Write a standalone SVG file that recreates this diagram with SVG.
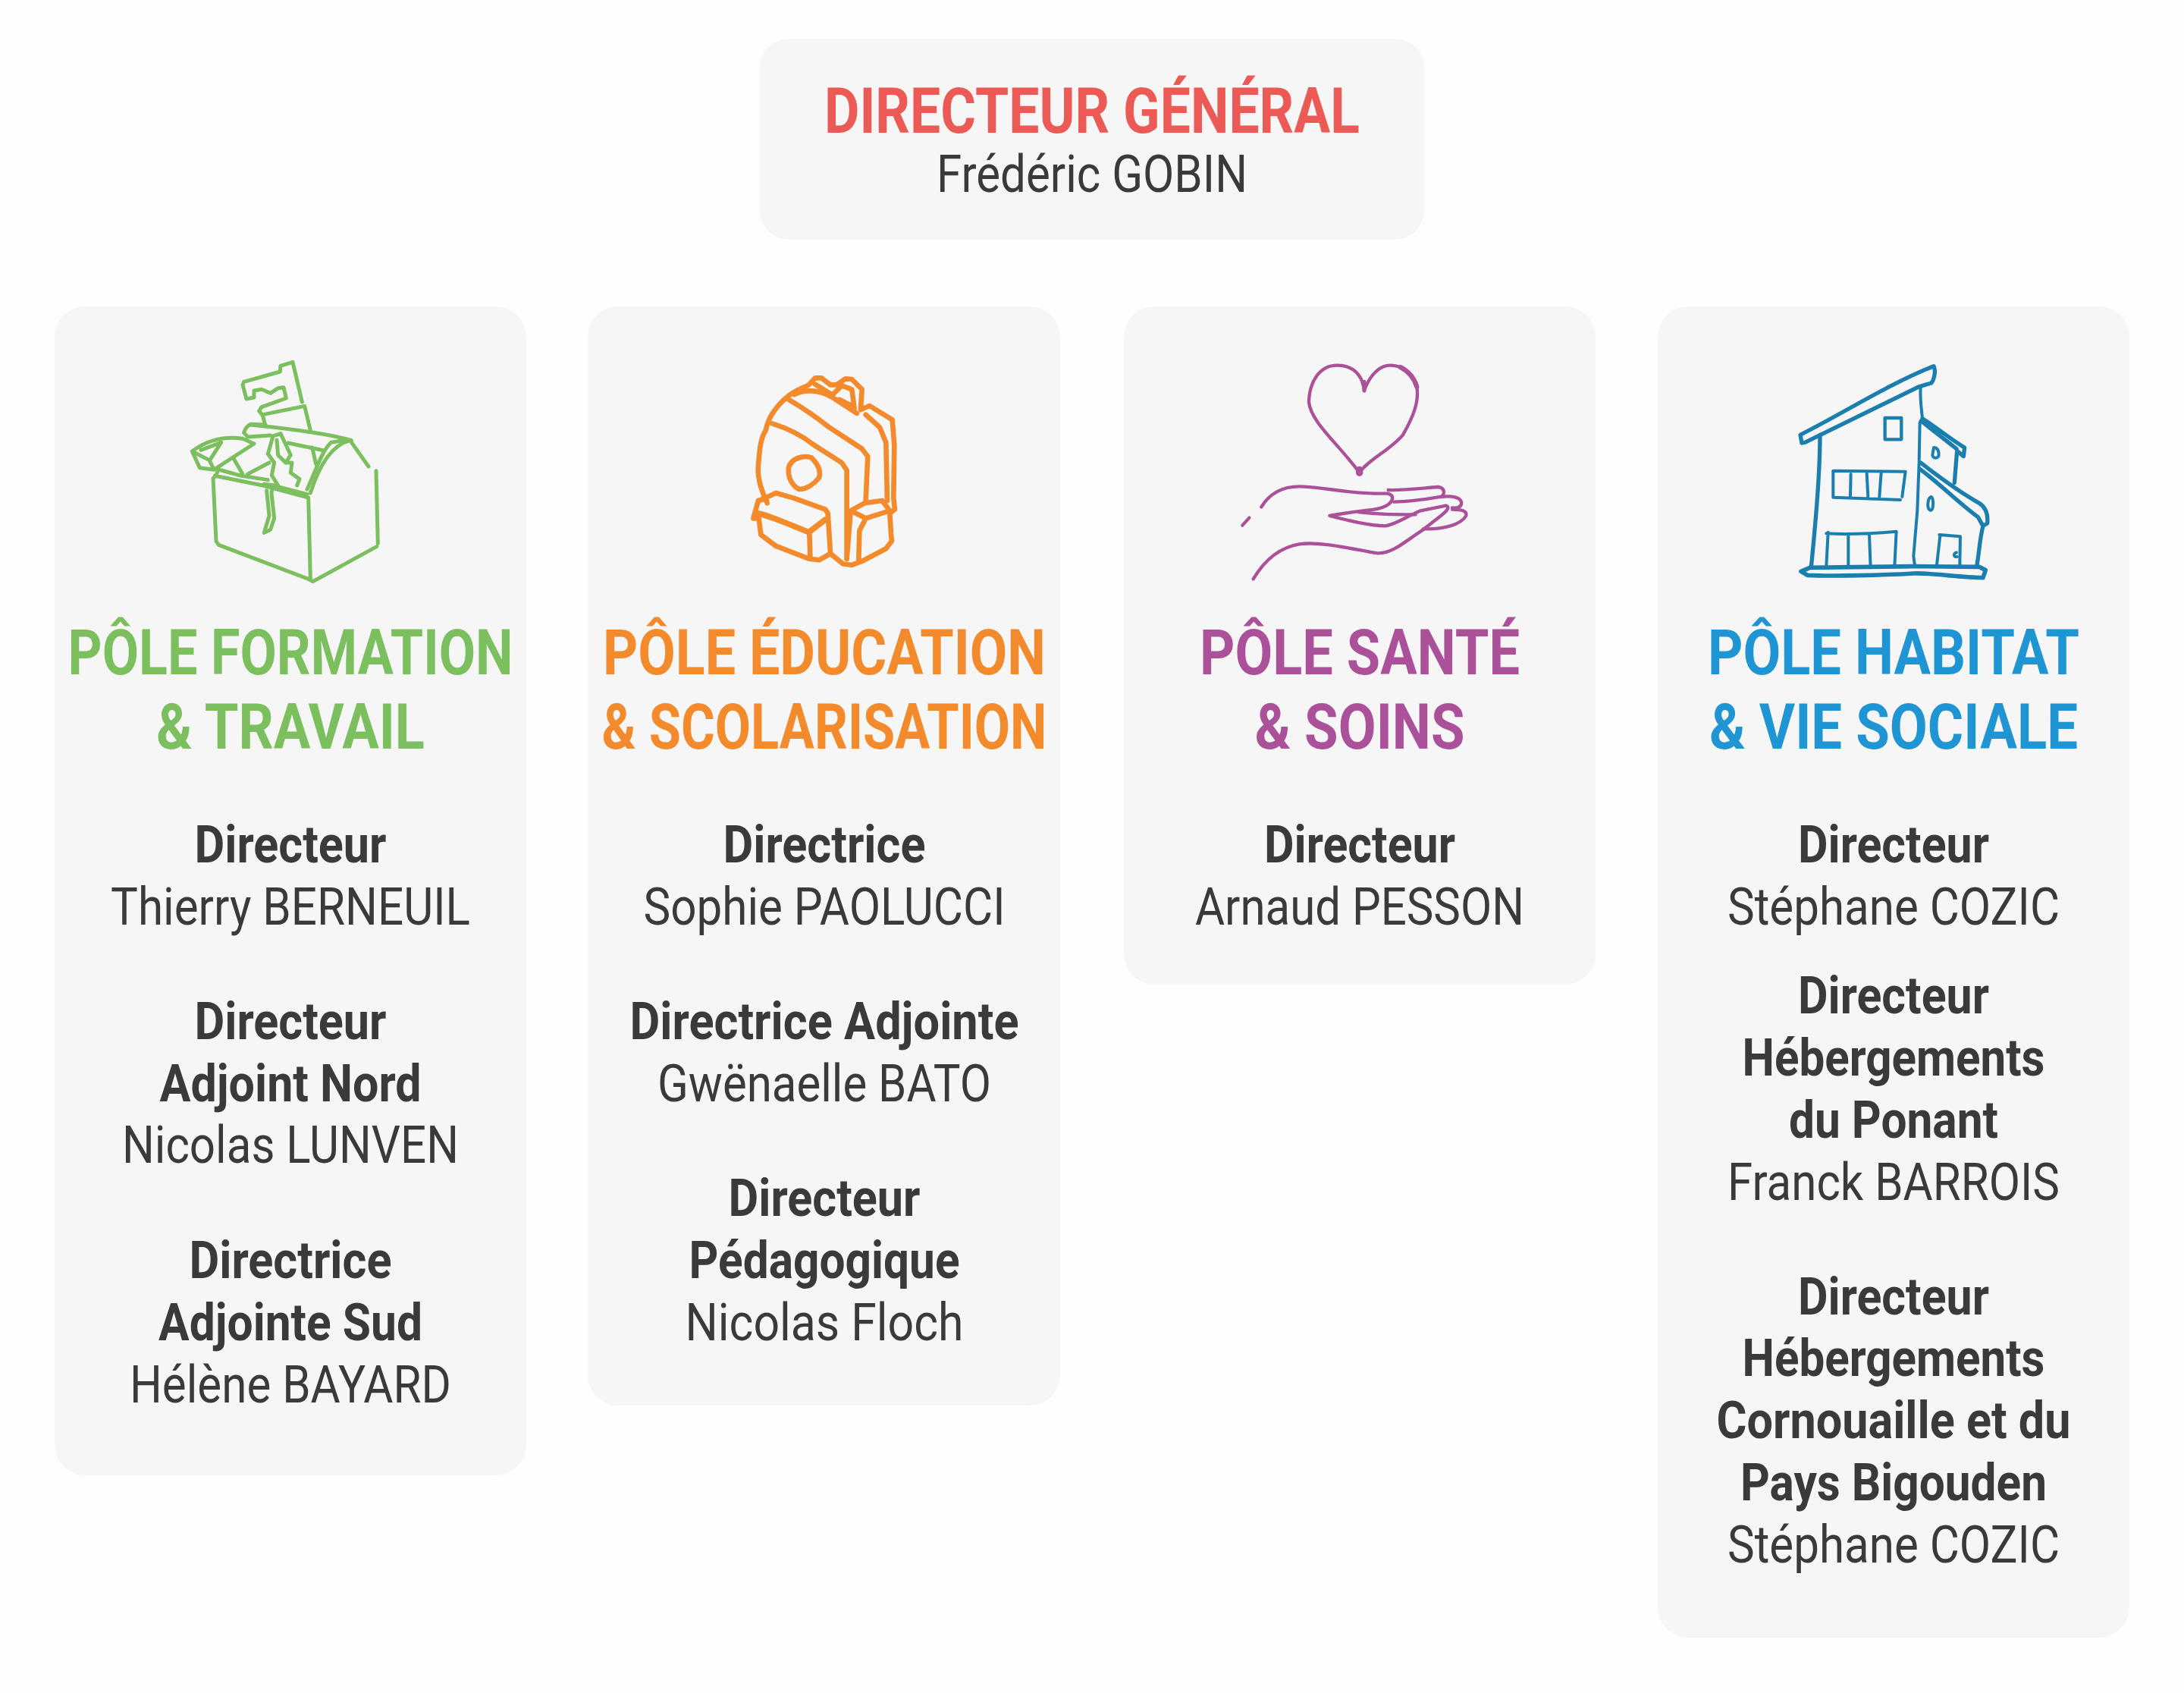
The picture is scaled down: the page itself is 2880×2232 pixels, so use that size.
<svg xmlns="http://www.w3.org/2000/svg" width="2880" height="2232" viewBox="0 0 2880 2232">
<style>
text{font-family:Roboto,"Liberation Sans",sans-serif;text-anchor:middle;fill:#3a3a3a}
.h{font-size:83px;font-weight:700}
.b{font-size:68px;font-weight:700}
.n{font-size:68px;font-weight:400}
.card{fill:#f6f6f6}
.ic{fill:none;stroke-linecap:round;stroke-linejoin:round}
</style>
<rect width="2880" height="2232" fill="#fefefe"/>
<g id="connectors"/>
<g id="directeur-general">
<rect class="card" x="1001" y="51" width="878" height="265" rx="40"/>
<text class="h" x="1440" y="175" textLength="706" lengthAdjust="spacingAndGlyphs" style="fill:#ec5a55">DIRECTEUR GÉNÉRAL</text>
<text class="n" x="1440" y="253" textLength="410" lengthAdjust="spacingAndGlyphs">Frédéric GOBIN</text>
</g>
<g id="pole-formation">
<rect class="card" x="72" y="404" width="622" height="1541" rx="40"/>
<g class="ic" transform="translate(220,450) scale(.3333)" stroke="#7cbf5e" stroke-width="15">
<path d="M535 240L498 82L450 97L448 120L305 160L300 172L315 228L345 222L345 195L375 190L410 205L440 185L462 182L472 225L375 260L365 275L380 295L388 328"/>
<path d="M380 290L545 256L568 352"/>
<path d="M390 330L330 328Q310 340 305 362L320 378L410 372M330 330C480 345 640 365 730 392"/>
<path d="M480 402L622 432M590 485L575 420"/>
<path d="M100 435L130 500L187 508L168 470L100 435C160 390 230 375 300 385L345 405L190 505M135 430L215 400L170 470"/>
<path d="M265 465L300 525M320 525L405 480M215 510L295 532L400 548"/>
<path d="M400 445L420 375L450 365L490 450L470 480L495 480L490 520L525 545L515 570M400 445L425 480L415 530L440 570M435 390L440 450L470 480"/>
<path d="M195 530L183 542L195 790L205 805L560 940L578 950L830 812"/>
<path d="M828 512L835 800M190 532L380 570L560 618L568 935"/>
<path d="M205 505L195 530M440 575L555 605"/>
<path d="M385 565L430 570Q410 585 415 610L425 700L410 745L385 757L405 690L395 590"/>
<path d="M568 600C600 500 650 410 725 392L798 495"/>
<path d="M555 585C590 510 615 430 650 400L700 392"/>
</g>
<text class="h" x="383" y="889" textLength="587" lengthAdjust="spacingAndGlyphs" style="fill:#7cbf5e">PÔLE FORMATION</text>
<text class="h" x="383" y="987" textLength="354" lengthAdjust="spacingAndGlyphs" style="fill:#7cbf5e">&amp; TRAVAIL</text>
<text class="b" x="383" y="1137" textLength="253" lengthAdjust="spacingAndGlyphs">Directeur</text>
<text class="n" x="383" y="1219" textLength="474" lengthAdjust="spacingAndGlyphs">Thierry BERNEUIL</text>
<text class="b" x="383" y="1370" textLength="253" lengthAdjust="spacingAndGlyphs">Directeur</text>
<text class="b" x="383" y="1452" textLength="345" lengthAdjust="spacingAndGlyphs">Adjoint Nord</text>
<text class="n" x="383" y="1533" textLength="444" lengthAdjust="spacingAndGlyphs">Nicolas LUNVEN</text>
<text class="b" x="383" y="1685" textLength="267" lengthAdjust="spacingAndGlyphs">Directrice</text>
<text class="b" x="383" y="1767" textLength="348" lengthAdjust="spacingAndGlyphs">Adjointe Sud</text>
<text class="n" x="383" y="1849" textLength="424" lengthAdjust="spacingAndGlyphs">Hélène BAYARD</text>
</g>
<g id="pole-education">
<rect class="card" x="775" y="404" width="623" height="1449" rx="40"/>
<g class="ic" transform="translate(960,470) scale(.3333)" stroke="#f38b2d" stroke-width="20">
<path d="M150 570C130 520 115 480 120 430C125 380 125 330 150 290C160 230 220 150 305 120L320 112L345 85L370 85L405 112L430 112L465 88L490 90L530 130L525 210L560 195L650 250L658 350L655 560L660 605L640 620L645 700L648 730L625 760L530 810L490 825L455 820L405 780L360 805L320 800L190 750L130 705L122 640L100 640L120 570L150 560L155 580"/>
<path d="M262 150C300 130 360 130 410 160L510 225M545 230L600 280L625 340L630 570"/>
<path d="M240 170C290 200 350 240 400 280L530 365L553 395L545 570"/>
<path d="M175 265C240 285 290 310 340 350L450 420L470 450L470 800"/>
<path d="M345 110L410 150M415 150L450 115L490 130L500 205M440 170L490 195"/>
<path d="M240 440C250 400 300 390 330 400C350 420 370 450 360 480C340 505 310 525 280 525C255 510 235 480 240 440Z"/>
<path d="M125 570L190 540L260 560L385 605L395 620L405 775"/>
<path d="M115 620C170 630 230 660 320 695L385 645" stroke-width="23"/>
<path d="M322 695L325 790"/>
<path d="M485 610L540 580L610 570L640 610L545 640L485 610ZM485 615L470 800M545 640L520 690L517 805"/>
</g>
<text class="h" x="1087" y="889" textLength="584" lengthAdjust="spacingAndGlyphs" style="fill:#f38b2d">PÔLE ÉDUCATION</text>
<text class="h" x="1087" y="987" textLength="587" lengthAdjust="spacingAndGlyphs" style="fill:#f38b2d">&amp; SCOLARISATION</text>
<text class="b" x="1087" y="1137" textLength="267" lengthAdjust="spacingAndGlyphs">Directrice</text>
<text class="n" x="1087" y="1219" textLength="477" lengthAdjust="spacingAndGlyphs">Sophie PAOLUCCI</text>
<text class="b" x="1087" y="1370" textLength="513" lengthAdjust="spacingAndGlyphs">Directrice Adjointe</text>
<text class="n" x="1087" y="1452" textLength="440" lengthAdjust="spacingAndGlyphs">Gwënaelle BATO</text>
<text class="b" x="1087" y="1603" textLength="253" lengthAdjust="spacingAndGlyphs">Directeur</text>
<text class="b" x="1087" y="1685" textLength="357" lengthAdjust="spacingAndGlyphs">Pédagogique</text>
<text class="n" x="1087" y="1767" textLength="367" lengthAdjust="spacingAndGlyphs">Nicolas Floch</text>
</g>
<g id="pole-sante">
<rect class="card" x="1482" y="404" width="622" height="894" rx="40"/>
<g class="ic" transform="translate(1620,460) scale(.3333)" stroke="#ab519a" stroke-width="13">
<path d="M537 165C530 100 490 65 430 65C360 65 320 130 318 210C325 290 440 380 518 490C550 440 640 400 690 340C730 270 755 210 745 150C730 100 690 65 640 65C600 65 560 100 537 165Z"/>
<path d="M680 72C715 90 735 115 745 150" stroke-width="19"/>
<path d="M537 130V165" stroke-width="15"/>
<path d="M518 478V490" stroke-width="28"/>
<path d="M130 625C170 560 230 540 300 545C400 550 480 575 630 572C660 580 650 605 625 620C590 640 540 635 400 660C480 680 560 700 620 700C660 695 700 665 760 640L860 620C880 625 860 645 840 660L770 715C700 760 650 810 590 808C500 795 370 760 280 772C200 785 140 840 98 910"/>
<path d="M632 558C700 560 770 550 830 546C860 550 855 580 840 585C780 595 720 605 655 605"/>
<path d="M840 585C880 580 920 585 922 610C920 630 900 630 885 628"/>
<path d="M885 635C920 635 945 640 940 660C920 695 850 715 770 712"/>
<path d="M515 645C590 655 650 655 740 655"/>
<path d="M55 698L82 668"/>
</g>
<text class="h" x="1793" y="889" textLength="422" lengthAdjust="spacingAndGlyphs" style="fill:#ab519a">PÔLE SANTÉ</text>
<text class="h" x="1793" y="987" textLength="277" lengthAdjust="spacingAndGlyphs" style="fill:#ab519a">&amp; SOINS</text>
<text class="b" x="1793" y="1137" textLength="252" lengthAdjust="spacingAndGlyphs">Directeur</text>
<text class="n" x="1793" y="1219" textLength="434" lengthAdjust="spacingAndGlyphs">Arnaud PESSON</text>
</g>
<g id="pole-habitat">
<rect class="card" x="2186" y="404" width="622" height="1755" rx="40"/>
<g class="ic" transform="translate(2350,460) scale(.3333)" stroke="#1a7fae" stroke-width="16">
<path d="M72 340C250 250 420 140 600 68C610 90 600 125 590 135L540 150L90 370L78 372Z"/>
<path d="M150 340C150 500 135 650 125 760L115 865"/>
<path d="M548 150C545 200 552 240 555 275M545 290L542 450L535 640L520 820L525 855" stroke-width="12"/>
<path d="M555 275C610 310 670 360 722 390L718 425L695 405M550 285L690 395"/>
<path d="M692 405L682 530"/>
<path d="M548 450C600 490 690 560 780 610C810 630 815 660 812 690L795 700L775 665C700 610 620 530 545 475"/>
<path d="M795 700C780 760 780 810 770 860"/>
<rect x="407" y="273" width="65" height="85" stroke-width="13"/>
<path d="M600 390C610 390 620 395 620 420C620 435 595 435 595 420Z" stroke-width="12"/>
<path d="M590 585C600 590 600 635 590 638C570 640 575 590 590 585Z" stroke-width="12"/>
<path d="M202 482L488 485L475 585M202 482L202 587L468 597M272 495L270 585M335 490L340 585M392 490L385 585" stroke-width="12"/>
<path d="M175 730C270 735 360 730 452 722L445 860M182 725L175 860M262 735L262 865M345 730L350 865" stroke-width="12"/>
<path d="M622 735L705 742L703 860M625 740L612 855M690 805C675 810 680 825 692 822" stroke-width="12"/>
<path d="M110 865L520 860L780 862L805 875L795 905C700 905 600 885 520 888C400 895 200 900 100 895L75 880Z" stroke-width="17"/>
</g>
<text class="h" x="2497" y="889" textLength="490" lengthAdjust="spacingAndGlyphs" style="fill:#1f95d3">PÔLE HABITAT</text>
<text class="h" x="2497" y="987" textLength="486" lengthAdjust="spacingAndGlyphs" style="fill:#1f95d3">&amp; VIE SOCIALE</text>
<text class="b" x="2497" y="1137" textLength="252" lengthAdjust="spacingAndGlyphs">Directeur</text>
<text class="n" x="2497" y="1219" textLength="438" lengthAdjust="spacingAndGlyphs">Stéphane COZIC</text>
<text class="b" x="2497" y="1336" textLength="252" lengthAdjust="spacingAndGlyphs">Directeur</text>
<text class="b" x="2497" y="1418" textLength="399" lengthAdjust="spacingAndGlyphs">Hébergements</text>
<text class="b" x="2497" y="1500" textLength="276" lengthAdjust="spacingAndGlyphs">du Ponant</text>
<text class="n" x="2497" y="1582" textLength="438" lengthAdjust="spacingAndGlyphs">Franck BARROIS</text>
<text class="b" x="2497" y="1733" textLength="252" lengthAdjust="spacingAndGlyphs">Directeur</text>
<text class="b" x="2497" y="1814" textLength="399" lengthAdjust="spacingAndGlyphs">Hébergements</text>
<text class="b" x="2497" y="1896" textLength="467" lengthAdjust="spacingAndGlyphs">Cornouaille et du</text>
<text class="b" x="2497" y="1978" textLength="404" lengthAdjust="spacingAndGlyphs">Pays Bigouden</text>
<text class="n" x="2497" y="2060" textLength="438" lengthAdjust="spacingAndGlyphs">Stéphane COZIC</text>
</g>
</svg>
